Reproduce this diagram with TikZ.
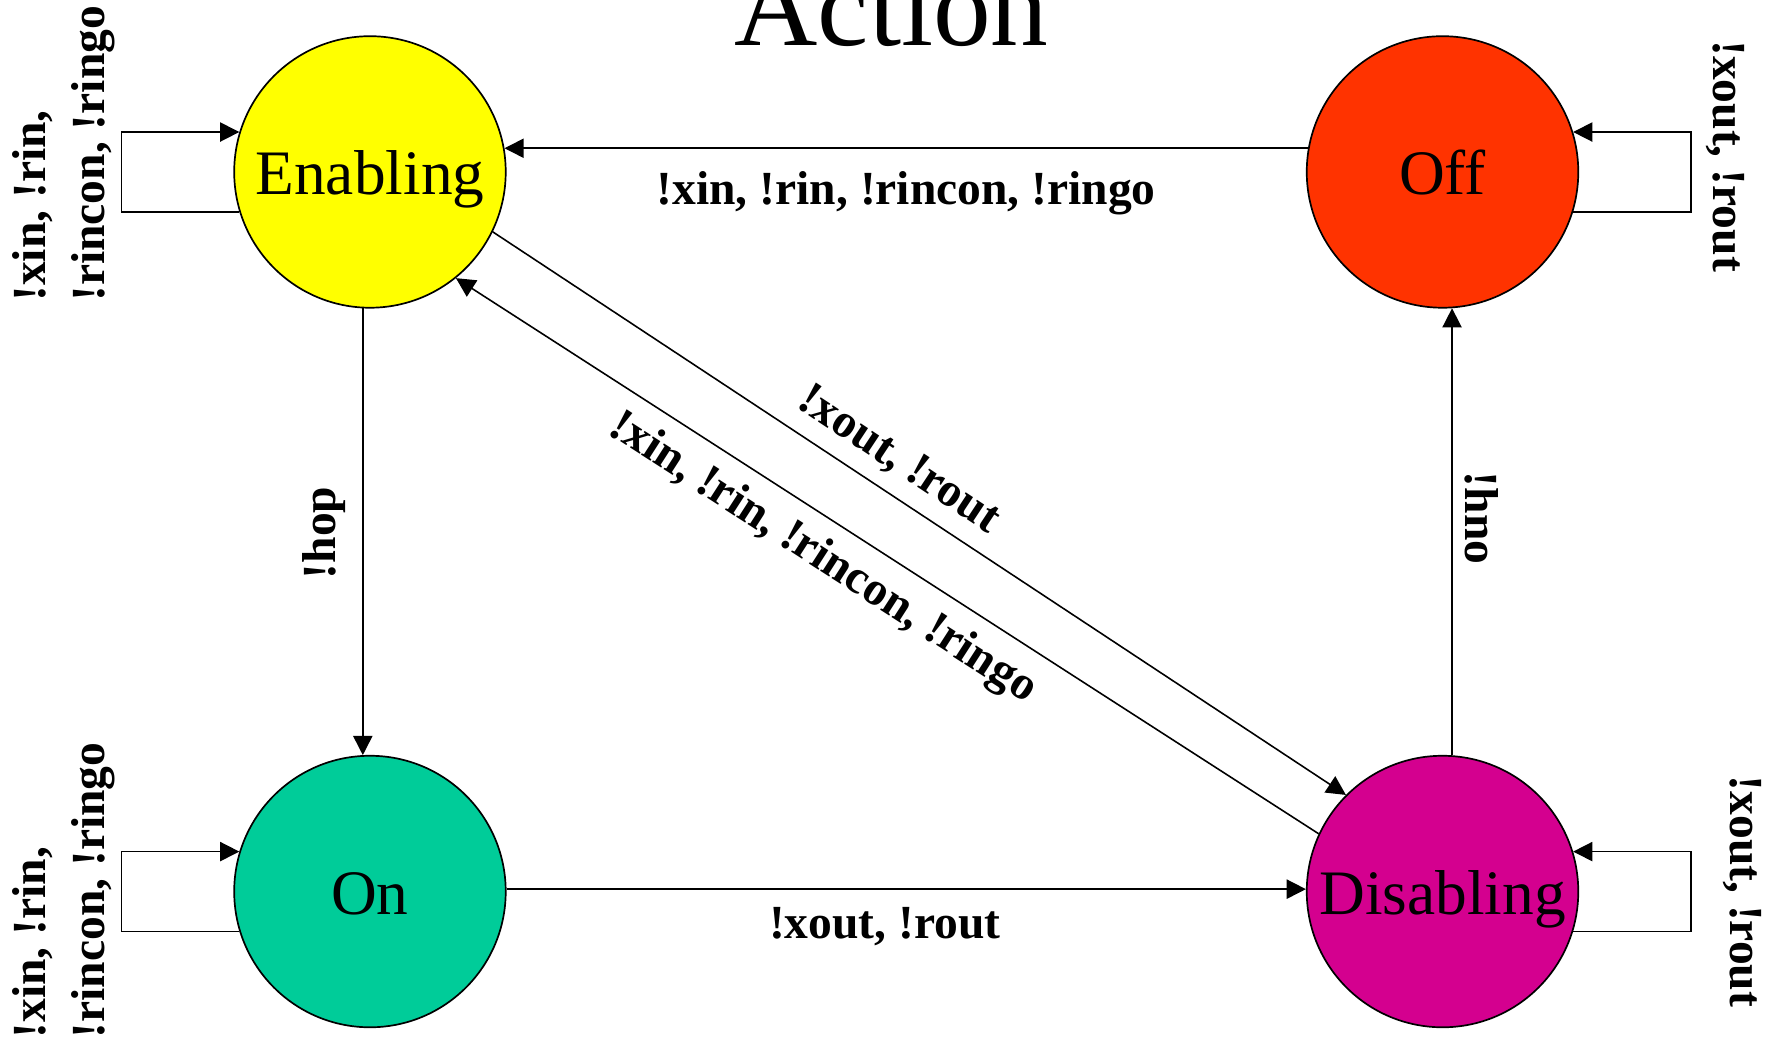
\documentclass[tikz,border=0pt]{standalone}
\usepackage{fontspec}
\setmainfont{Liberation Serif}
\usetikzlibrary{arrows.meta}
\definecolor{cEn}{HTML}{FFFF00}
\definecolor{cOff}{HTML}{FF3300}
\definecolor{cOn}{HTML}{00CC99}
\definecolor{cDis}{HTML}{D4008F}
\begin{document}
\begin{tikzpicture}[x=0.5pt,y=-0.5pt,
  state/.style={circle,draw=black,line width=0.75pt,minimum size=120pt,inner sep=0pt,text height=20pt,text depth=0pt,font=\fontsize{28}{34}\selectfont},
  arr/.style={-{Triangle[length=8.5pt,width=8.5pt]},line width=0.7pt},
  lbl/.style={font=\bfseries\fontsize{21}{26}\selectfont,inner sep=0pt},
  ]
\path[use as bounding box, fill=white] (0,0) rectangle (1568,919);
\node[font=\fontsize{51}{60}\selectfont, anchor=base, inner sep=0pt] (title) at (788,40) {Action};
\node[state,fill=cEn] (en) at (327,152) {Enabling};
\node[state,fill=cOff] (off) at (1275,152) {Off};
\node[state,fill=cOn] (on) at (327,788) {On};
\node[state,fill=cDis] (dis) at (1275,788) {Disabling};
\draw[arr] (off.170) -- (en.10);
\draw[arr] (en.-93.3) -- (on.93.3);
\draw[arr] (dis.86.2) -- (off.-86.2);
\draw[arr] (on.1) -- (dis.179);
\draw[arr] (en.-26) -- (dis.135);
\draw[arr] (dis.155) -- (en.-51);
\draw[arr] (en.197) -- ++(-104,0) |- (en.163);
\draw[arr] (on.197) -- ++(-104,0) |- (on.163);
\draw[arr] (off.-17) -- ++(104,0) |- (off.17);
\draw[arr] (dis.-17) -- ++(104,0) |- (dis.17);
\node[lbl] (l1) at (801,171) {!xin, !rin, !rincon, !ringo};
\node[lbl] (l2) at (782,819) {!xout, !rout};
\node[lbl,rotate=90] (l3) at (286,471) {!hop};
\node[lbl,rotate=-90] (l4) at (1310,458) {!hno};
\node[lbl,rotate=-33.5] (l5) at (794,407) {!xout, !rout};
\node[lbl,rotate=-32.8] (l6) at (727,494) {!xin, !rin, !rincon, !ringo};
\node[lbl,rotate=90,align=left] (l7) at (56,136) {!xin, !rin,\\!rincon, !ringo};
\node[lbl,rotate=90,align=left] (l8) at (56,787) {!xin, !rin,\\!rincon, !ringo};
\node[lbl,rotate=-90] (l9) at (1525,138) {!xout, !rout};
\node[lbl,rotate=-90] (l10) at (1540,788) {!xout, !rout};
\end{tikzpicture}
\end{document}
